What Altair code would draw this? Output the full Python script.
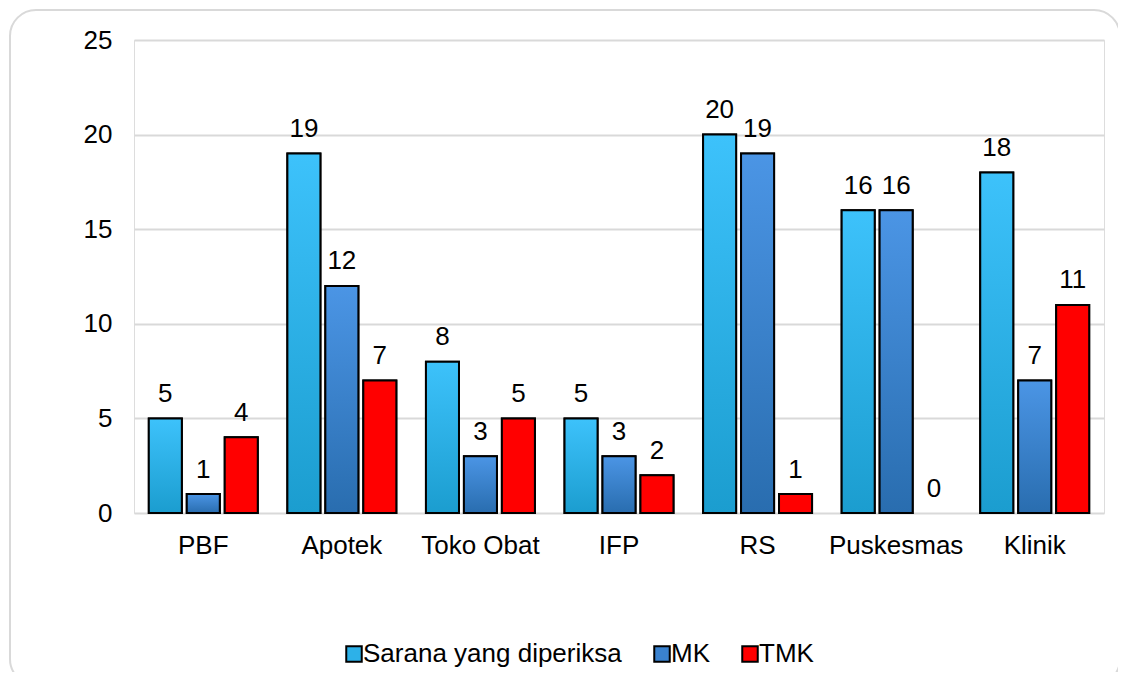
import altair as alt
import pandas as pd

categories = ["PBF", "Apotek", "Toko Obat", "IFP", "RS", "Puskesmas", "Klinik"]
series_names = ["Sarana yang diperiksa", "MK", "TMK"]
sarana = [5, 19, 8, 5, 20, 16, 18]
mk = [1, 12, 3, 3, 19, 16, 7]
tmk = [4, 7, 5, 2, 1, 0, 11]
y_ticks = [0, 5, 10, 15, 20, 25]

rows = []
for name, vals in zip(series_names, [sarana, mk, tmk]):
    for c, v in zip(categories, vals):
        rows.append({"Kategori": c, "Seri": name, "Nilai": v})
df = pd.DataFrame(rows)

FONT = "Liberation Sans"
solid_colors = ["#2db1e8", "#3a82cf", "#ff0000"]


def grad(top, bottom):
    return {
        "gradient": "linear",
        "x1": 0, "y1": 0, "x2": 0, "y2": 1,
        "stops": [{"offset": 0, "color": top}, {"offset": 1, "color": bottom}],
    }


g_sarana = grad("#3dc2fb", "#1b9dcf")
g_mk = grad("#4b95e5", "#296daf")

x_enc = alt.X(
    "Kategori:N",
    sort=categories,
    scale=alt.Scale(paddingInner=0, paddingOuter=0),
    axis=alt.Axis(
        title=None, labelAngle=0, ticks=False, tickSize=0, domain=False,
        labelFontSize=26, labelPadding=19, labelColor="#000000", labelFont=FONT,
    ),
)
xoff_enc = alt.XOffset(
    "Seri:N", sort=series_names,
    scale=alt.Scale(paddingInner=0.13, paddingOuter=0.39),
)
y_enc = alt.Y(
    "Nilai:Q",
    scale=alt.Scale(domain=[0, 25], nice=False),
    axis=alt.Axis(
        title=None, values=y_ticks, ticks=False, domain=False,
        grid=True, gridColor="#d9d9d9", gridWidth=2,
        labelFontSize=26, labelPadding=22, labelColor="#000000", labelFont=FONT,
    ),
)

zero_hide = alt.condition("datum.Nilai === 0", alt.value(0), alt.value(1))

base = alt.Chart(df)

legend_bars = base.mark_bar(stroke="#000000", strokeWidth=2).encode(
    x=x_enc, xOffset=xoff_enc, y=y_enc,
    strokeOpacity=zero_hide,
    color=alt.Color(
        "Seri:N",
        sort=series_names,
        scale=alt.Scale(domain=series_names, range=solid_colors),
        legend=alt.Legend(
            title=None, orient="none", direction="horizontal",
            legendX=207, legendY=601,
            symbolType="square", symbolSize=240,
            symbolStrokeColor="#000000", symbolStrokeWidth=2, symbolOpacity=1,
            labelFontSize=26, labelFont=FONT, labelColor="#000000",
            labelOffset={"expr": "-4"}, columnPadding=27, symbolOffset=0,
            labelLimit=0,
        ),
    ),
)

grad_bars = base.mark_bar(stroke="#000000", strokeWidth=2).encode(
    x=x_enc, xOffset=xoff_enc, y=y_enc,
    strokeOpacity=zero_hide,
    fill={
        "condition": [
            {"test": "datum.Seri === 'Sarana yang diperiksa'", "value": g_sarana},
            {"test": "datum.Seri === 'MK'", "value": g_mk},
        ],
        "value": "#ff0000",
    },
)

labels = base.mark_text(
    fontSize=26, font=FONT, color="#000000", baseline="alphabetic", dy=-16.5
).encode(
    x=x_enc, xOffset=xoff_enc, y=y_enc, text=alt.Text("Nilai:Q"),
)

border = alt.Chart(pd.DataFrame({"a": [0]})).mark_rect(
    fill=None, stroke="#d9d9d9", strokeWidth=2, cornerRadius=26, clip=False
).encode(
    x=alt.value(-124), x2=alt.value(986), y=alt.value(-30), y2=alt.value(645),
)

chart = alt.layer(border, legend_bars, grad_bars, labels).properties(
    width=970,
    height=473,
    autosize=alt.AutoSizeParams(type="none"),
    padding={"left": 126, "top": 32, "right": 14, "bottom": 159},
).configure_view(stroke=None).configure(font=FONT)

chart.save("out.html", embed_options={"renderer": "svg", "actions": False})
